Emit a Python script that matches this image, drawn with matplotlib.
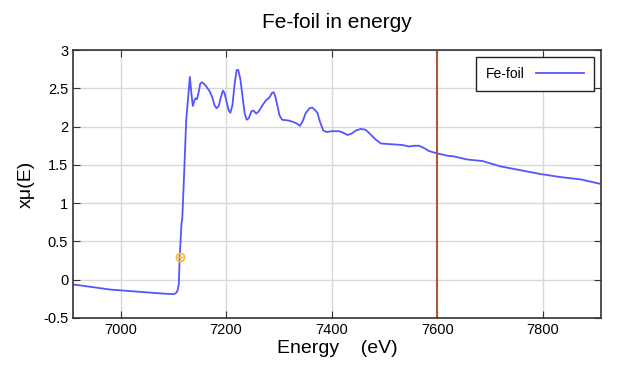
import matplotlib
matplotlib.use('Agg')
import matplotlib.pyplot as plt

plt.rcParams['font.family'] = ['Liberation Sans', 'DejaVu Sans']

energy = [6911, 6918, 6981, 7076, 7101, 7106, 7108.6, 7110.5, 7112, 7115.6, 7117, 7120,
          7123, 7124.5, 7126, 7129, 7131.4, 7134, 7137, 7140, 7142, 7145, 7148, 7151,
          7154, 7158, 7163, 7169, 7174, 7178, 7182, 7186, 7190, 7194, 7197, 7201,
          7205, 7208, 7212, 7216, 7220, 7223, 7227, 7231, 7235, 7239, 7243, 7248,
          7252, 7257, 7262, 7268, 7275, 7282, 7287, 7290, 7293, 7297, 7301, 7306,
          7318, 7328, 7334, 7340, 7345, 7351, 7358, 7363, 7368, 7373, 7378, 7384,
          7390, 7400, 7414, 7422, 7430, 7438, 7446, 7455, 7464, 7472, 7482, 7493,
          7512, 7534, 7546.5, 7556, 7565.5, 7575, 7584.4, 7600, 7619, 7632,
          7657, 7686, 7720, 7758, 7796, 7834, 7872, 7910]
mu = [-0.065, -0.07, -0.13, -0.18, -0.19, -0.17, -0.13, -0.05, 0.29, 0.74, 0.80, 1.30,
      1.83, 2.09, 2.22, 2.45, 2.65, 2.45, 2.27, 2.34, 2.37, 2.36, 2.45, 2.56,
      2.58, 2.56, 2.52, 2.46, 2.38, 2.28, 2.24, 2.27, 2.38, 2.47, 2.44, 2.32,
      2.21, 2.18, 2.28, 2.55, 2.74, 2.74, 2.62, 2.40, 2.18, 2.09, 2.11, 2.20,
      2.21, 2.17, 2.20, 2.27, 2.34, 2.38, 2.44, 2.45, 2.40, 2.28, 2.15, 2.09,
      2.08, 2.06, 2.04, 2.01, 2.07, 2.18, 2.24, 2.25, 2.22, 2.18, 2.06, 1.95,
      1.93, 1.94, 1.94, 1.92, 1.89, 1.91, 1.95, 1.97, 1.96, 1.91, 1.84, 1.78,
      1.77, 1.76, 1.74, 1.75, 1.75, 1.72, 1.68, 1.65, 1.62, 1.61,
      1.57, 1.55, 1.48, 1.43, 1.38, 1.34, 1.31, 1.25]

e0 = [7112]
e0_mu = [0.29]
marker_line = 7600

fig = plt.figure(figsize=(6.24, 3.74), dpi=100)
ax = fig.add_axes([0.117, 0.150, 0.846, 0.716])

ax.plot(energy, mu, color='#5555ff', lw=1.3, label='Fe-foil')
ax.axvline(marker_line, color='#b0583a', lw=1.5)
ax.plot(e0, e0_mu, marker='o', ms=6, mfc='none', mec='#f5b849', mew=1.2, ls='none')
ax.plot(e0, e0_mu, marker='+', ms=6, mec='#f5b849', mew=1.0, ls='none')

ax.set_xlim(6910, 7910)
ax.set_ylim(-0.5, 3)
ax.set_xticks([7000, 7200, 7400, 7600, 7800])
ax.set_yticks([-0.5, 0, 0.5, 1, 1.5, 2, 2.5, 3])
ax.set_yticklabels(['-0.5', '0', '0.5', '1', '1.5', '2', '2.5', '3'])
ax.grid(True, color='#d8d8d8', lw=1)
ax.set_axisbelow(True)
ax.tick_params(direction='in', top=True, right=True, length=5, labelsize=10.5,
               color='#333333')
for s in ax.spines.values():
    s.set_color('#333333')
    s.set_linewidth(1.2)

ax.set_title('Fe-foil in energy', fontsize=15, pad=16)
ax.set_xlabel('Energy    (eV)', fontsize=14, labelpad=2)
ax.set_ylabel('xμ(E)', fontsize=14, labelpad=6)

leg = ax.legend(loc='upper right', markerfirst=False, fancybox=False,
                edgecolor='#222222', framealpha=1, fontsize=10,
                borderpad=0.7, handlelength=3.5, borderaxespad=0.5)
leg.get_frame().set_linewidth(1.0)

fig.savefig('out.png', dpi=100)
